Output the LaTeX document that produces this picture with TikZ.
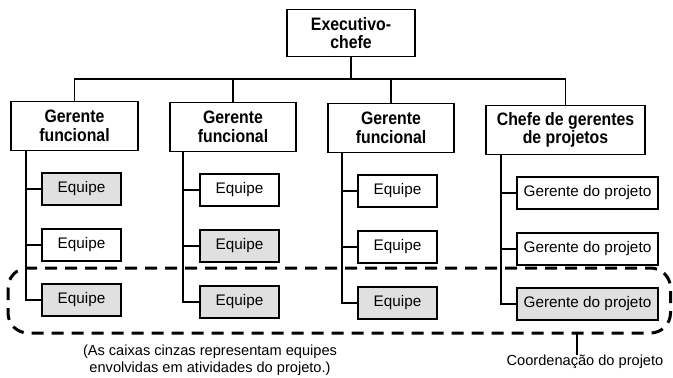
\documentclass[tikz,border=0pt]{standalone}
\usepackage{fontspec}
\setmainfont{Liberation Sans}
\newfontfamily\headfont[FakeStretch=0.88]{Liberation Sans}
\begin{document}
\begin{tikzpicture}[x=1pt,y=-1pt,
  head/.style={draw=black,line width=1.6pt,fill=white,align=center,inner sep=0pt,
    font=\headfont\fontsize{18}{18.5}\selectfont\bfseries},
  team/.style={draw=black,line width=1.4pt,fill=white,minimum height=32pt,inner sep=0pt,
    font=\fontsize{15.3}{17}\selectfont},
  gteam/.style={team,fill=black!12},
  conn/.style={line width=1.6pt},
  outline/.style={line width=3pt,dash pattern=on 12pt off 8pt,rounded corners=20pt},
  note/.style={align=center,inner sep=0pt,font=\fontsize{14.6}{17}\selectfont}]
\useasboundingbox (0,0) rectangle (673,378);

% top
\node[head,minimum width=128pt,minimum height=47pt] (ceo) at (351,33) {Executivo-\\chefe};
% level 2
\node[head,minimum width=127pt,minimum height=49pt] (g1) at (74.5,126) {Gerente\\funcional};
\node[head,minimum width=126pt,minimum height=49pt] (g2) at (233,127) {Gerente\\funcional};
\node[head,minimum width=126pt,minimum height=49pt] (g3) at (391,128) {Gerente\\funcional};
\node[head,minimum width=159pt,minimum height=49pt] (g4) at (565.5,130) {Chefe de gerentes\\de projetos};

\coordinate (bus) at (351,79);
\draw[conn] (ceo.south) -- (bus);
\draw[conn] (g1.north) -- (g1.north |- bus) -- (g4.north |- bus) -- (g4.north);
\draw[conn] (g2.north) -- (g2.north |- bus);
\draw[conn] (g3.north) -- (g3.north |- bus);

% teams
\node[gteam,minimum width=79pt] (e11) at (81.5,189) {Equipe};
\node[team, minimum width=79pt] (e12) at (81.5,245) {Equipe};
\node[gteam,minimum width=79pt] (e13) at (81.5,300) {Equipe};

\node[team, minimum width=79pt] (e21) at (239.5,190) {Equipe};
\node[gteam,minimum width=79pt] (e22) at (239.5,246) {Equipe};
\node[gteam,minimum width=79pt] (e23) at (239.5,302) {Equipe};

\node[team, minimum width=79pt] (e31) at (397.5,191) {Equipe};
\node[team, minimum width=79pt] (e32) at (397.5,247) {Equipe};
\node[gteam,minimum width=79pt] (e33) at (397.5,303) {Equipe};

\node[team, minimum width=141pt] (e41) at (587.5,193) {Gerente do projeto};
\node[team, minimum width=141pt] (e42) at (587.5,249) {Gerente do projeto};
\node[gteam,minimum width=141pt] (e43) at (587.5,304) {Gerente do projeto};

% spines
\coordinate (s1) at ([xshift=16pt]g1.south west);
\coordinate (s2) at ([xshift=14pt]g2.south west);
\coordinate (s3) at ([xshift=15pt]g3.south west);
\coordinate (s4) at ([xshift=16pt]g4.south west);
\foreach \c in {1,2,3,4}{
  \draw[conn] (s\c) |- (e\c3.west);
  \draw[conn] (e\c1.west) -- (e\c1.west -| s\c);
  \draw[conn] (e\c2.west) -- (e\c2.west -| s\c);
}

% project coordination outline
\draw[outline] (8,268) rectangle (670.5,333);

% notes
\node[note] (grey) at (210,360) {(As caixas cinzas representam equipes\\envolvidas em atividades do projeto.)};
\node[note] (coord) at (585,362) {Coordenação do projeto};
\coordinate (tick) at (577,333);
\draw[line width=1.4pt] (tick) -- (tick |- coord.north);
\end{tikzpicture}
\end{document}
